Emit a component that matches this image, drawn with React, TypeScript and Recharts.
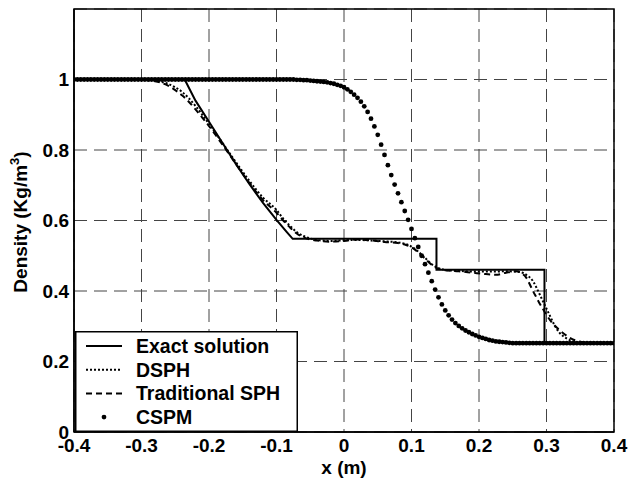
import { ComposedChart, Line, Scatter, XAxis, YAxis, CartesianGrid, ReferenceArea, Legend } from 'recharts'

const xTicks = [-0.4, -0.3, -0.2, -0.1, 0, 0.1, 0.2, 0.3, 0.4]
const yTicks = [0, 0.2, 0.4, 0.6, 0.8, 1]

// exact Riemann solution
const exact = [
  [-0.4, 1], [-0.236, 1], [-0.22, 0.94], [-0.2, 0.88], [-0.18, 0.82], [-0.16, 0.76], [-0.14, 0.703],
  [-0.12, 0.65], [-0.1, 0.602], [-0.085, 0.568], [-0.076, 0.548], [0.137, 0.548], [0.137, 0.46],
  [0.297, 0.46], [0.297, 0.252], [0.4, 0.252],
]

const dsph = [
  [-0.4, 1], [-0.3, 1], [-0.29, 0.999], [-0.28, 0.997], [-0.27, 0.993], [-0.26, 0.987], [-0.25, 0.978],
  [-0.24, 0.965], [-0.23, 0.947], [-0.22, 0.925], [-0.21, 0.9], [-0.2, 0.874], [-0.18, 0.82], [-0.16, 0.765],
  [-0.14, 0.712], [-0.12, 0.665], [-0.1, 0.63], [-0.09, 0.605], [-0.08, 0.585], [-0.07, 0.567], [-0.06, 0.556],
  [-0.05, 0.549], [-0.04, 0.545], [-0.02, 0.542], [0, 0.544], [0.02, 0.545], [0.04, 0.543], [0.06, 0.541],
  [0.08, 0.538], [0.09, 0.534], [0.1, 0.526], [0.11, 0.512], [0.12, 0.494], [0.13, 0.476], [0.14, 0.465],
  [0.15, 0.46], [0.17, 0.457], [0.2, 0.455], [0.22, 0.455], [0.24, 0.456], [0.26, 0.454], [0.27, 0.446],
  [0.28, 0.428], [0.285, 0.41], [0.29, 0.39], [0.295, 0.37], [0.3, 0.35], [0.305, 0.33], [0.31, 0.31],
  [0.315, 0.293], [0.32, 0.28], [0.33, 0.265], [0.34, 0.257], [0.35, 0.253], [0.4, 0.252],
]

const tradSph = [
  [-0.4, 1], [-0.3, 1], [-0.29, 0.998], [-0.28, 0.995], [-0.27, 0.99], [-0.26, 0.982], [-0.25, 0.97],
  [-0.24, 0.955], [-0.23, 0.937], [-0.22, 0.915], [-0.21, 0.892], [-0.2, 0.868], [-0.18, 0.815], [-0.16, 0.76],
  [-0.14, 0.706], [-0.12, 0.658], [-0.1, 0.622], [-0.09, 0.6], [-0.08, 0.58], [-0.07, 0.563], [-0.06, 0.552],
  [-0.05, 0.546], [-0.04, 0.543], [-0.02, 0.54], [0, 0.542], [0.02, 0.546], [0.04, 0.544], [0.06, 0.539],
  [0.08, 0.536], [0.09, 0.532], [0.1, 0.524], [0.11, 0.51], [0.12, 0.492], [0.13, 0.474], [0.14, 0.463],
  [0.15, 0.459], [0.17, 0.456], [0.19, 0.452], [0.21, 0.448], [0.225, 0.446], [0.24, 0.452], [0.255, 0.456],
  [0.265, 0.448], [0.27, 0.438], [0.275, 0.42], [0.28, 0.4], [0.285, 0.382], [0.29, 0.364], [0.295, 0.348],
  [0.3, 0.332], [0.31, 0.306], [0.32, 0.288], [0.33, 0.273], [0.34, 0.262], [0.35, 0.256], [0.36, 0.253],
  [0.4, 0.252],
]

const cspm = [
  [-0.4, 1], [-0.395, 1], [-0.39, 1], [-0.385, 1], [-0.38, 1], [-0.375, 1], [-0.37, 1], [-0.365, 1],
  [-0.36, 1], [-0.355, 1], [-0.35, 1], [-0.345, 1], [-0.34, 1], [-0.335, 1], [-0.33, 1], [-0.325, 1],
  [-0.32, 1], [-0.315, 1], [-0.31, 1], [-0.305, 1], [-0.3, 1], [-0.295, 1], [-0.29, 1], [-0.285, 1],
  [-0.28, 1], [-0.275, 1], [-0.27, 1], [-0.265, 1], [-0.26, 1], [-0.255, 1], [-0.25, 1], [-0.245, 1],
  [-0.24, 1], [-0.235, 1], [-0.23, 1], [-0.225, 1], [-0.22, 1], [-0.215, 1], [-0.21, 1], [-0.205, 1],
  [-0.2, 1], [-0.195, 1], [-0.19, 1], [-0.185, 1], [-0.18, 1], [-0.175, 1], [-0.17, 1], [-0.165, 1],
  [-0.16, 1], [-0.155, 1], [-0.15, 1], [-0.145, 1], [-0.14, 1], [-0.135, 1], [-0.13, 1], [-0.125, 1],
  [-0.12, 1], [-0.115, 1], [-0.11, 1], [-0.105, 1], [-0.1, 1], [-0.095, 1], [-0.09, 1], [-0.085, 1],
  [-0.08, 1], [-0.075, 1], [-0.07, 0.999], [-0.065, 0.999], [-0.06, 0.998], [-0.055, 0.998], [-0.05, 0.997],
  [-0.045, 0.996], [-0.04, 0.995], [-0.035, 0.994], [-0.03, 0.993], [-0.025, 0.992], [-0.02, 0.99],
  [-0.015, 0.988], [-0.01, 0.985], [-0.005, 0.982], [0, 0.978], [0.005, 0.972], [0.01, 0.965], [0.015, 0.957],
  [0.02, 0.948], [0.025, 0.937], [0.03, 0.924], [0.035, 0.908], [0.04, 0.889], [0.045, 0.867], [0.05, 0.843],
  [0.055, 0.815], [0.06, 0.786], [0.065, 0.757], [0.07, 0.729], [0.075, 0.702], [0.08, 0.677], [0.085, 0.652],
  [0.09, 0.627], [0.095, 0.602], [0.1, 0.576], [0.105, 0.55], [0.11, 0.525], [0.115, 0.5], [0.12, 0.476],
  [0.125, 0.452], [0.13, 0.428], [0.135, 0.404], [0.14, 0.382], [0.145, 0.362], [0.15, 0.345], [0.155, 0.331],
  [0.16, 0.319], [0.165, 0.309], [0.17, 0.301], [0.175, 0.294], [0.18, 0.288], [0.185, 0.283], [0.19, 0.278],
  [0.195, 0.274], [0.2, 0.27], [0.205, 0.267], [0.21, 0.264], [0.215, 0.261], [0.22, 0.259], [0.225, 0.257],
  [0.23, 0.256], [0.235, 0.255], [0.24, 0.254], [0.245, 0.253], [0.25, 0.252], [0.255, 0.252], [0.26, 0.252],
  [0.265, 0.252], [0.27, 0.252], [0.275, 0.252], [0.28, 0.252], [0.285, 0.252], [0.29, 0.252], [0.295, 0.252],
  [0.3, 0.252], [0.305, 0.252], [0.31, 0.252], [0.315, 0.252], [0.32, 0.252], [0.325, 0.252], [0.33, 0.252],
  [0.335, 0.252], [0.34, 0.252], [0.345, 0.252], [0.35, 0.252], [0.355, 0.252], [0.36, 0.252], [0.365, 0.252],
  [0.37, 0.252], [0.375, 0.252], [0.38, 0.252], [0.385, 0.252], [0.39, 0.252], [0.395, 0.252], [0.4, 0.252],
]

const toPts = (arr: number[][]) => arr.map(([x, y]) => ({ x, y }))

const FONT = '"Liberation Sans", Arial, Helvetica, sans-serif'
const tickStyle = { fontSize: 19, fontWeight: 700, fill: '#000', fontFamily: FONT }

const legendRows = [
  { name: 'Exact solution', dash: '' },
  { name: 'DSPH', dash: '2 2' },
  { name: 'Traditional SPH', dash: '6 4' },
  { name: 'CSPM', dash: 'dot' },
]

function LegendBox() {
  return (
    <svg width={223} height={101} style={{ display: 'block' }}>
      <rect x={0.75} y={0.75} width={221.5} height={99.5} fill='#fff' stroke='#000' strokeWidth={1.5} />
      {legendRows.map((r, i) => {
        const cy = 15 + i * 23.7
        return (
          <g key={r.name}>
            {r.dash === 'dot' ? (
              <circle cx={29} cy={cy} r={2.4} fill='#000' />
            ) : (
              <line x1={11} x2={47} y1={cy} y2={cy} stroke='#000' strokeWidth={2} strokeDasharray={r.dash || undefined} />
            )}
            <text x={61} y={cy + 7} fontSize={19.5} fontWeight={700} fontFamily={FONT} fill='#000'>
              {r.name}
            </text>
          </g>
        )
      })}
    </svg>
  )
}

function YLabel() {
  return (
    <text
      transform='translate(27, 222) rotate(-90)'
      textAnchor='middle'
      fontSize={19}
      fontWeight={700}
      fontFamily={FONT}
      fill='#000'
    >
      Density (Kg/m<tspan dy={-8} fontSize={13}>3</tspan><tspan dy={8}>)</tspan>
    </text>
  )
}

export default function App() {
  return (
    <div style={{ position: 'absolute', left: 0, top: 0, width: 629, height: 486, background: '#fff' }}>
      <ComposedChart width={629} height={486} margin={{ top: 9, right: 15, bottom: 0, left: 0 }}>
        <CartesianGrid stroke='#444' strokeDasharray='13 7' />
        <XAxis
          dataKey='x'
          type='number'
          domain={[-0.4, 0.4]}
          ticks={xTicks}
          allowDataOverflow
          tickFormatter={(v) => String(v)}
          tick={tickStyle}
          tickLine={false}
          tickSize={4}
          tickMargin={3}
          axisLine={{ stroke: '#000', strokeWidth: 1.5 }}
          height={54}
          label={{ value: 'x (m)', position: 'insideBottom', offset: 12, style: { ...tickStyle } }}
        />
        <YAxis
          dataKey='y'
          type='number'
          domain={[0, 1.2]}
          ticks={yTicks}
          allowDataOverflow
          tickFormatter={(v) => String(v)}
          tick={tickStyle}
          tickLine={false}
          tickSize={4}
          tickMargin={1}
          axisLine={{ stroke: '#000', strokeWidth: 1.5 }}
          width={74}
          label={{ content: () => <YLabel /> }}
        />
        <ReferenceArea x1={-0.4} x2={0.4} y1={0} y2={1.2} fill='none' stroke='#000' strokeWidth={1.5} ifOverflow='visible' />
        <Line data={toPts(exact)} dataKey='y' type='linear' stroke='#000' strokeWidth={2} dot={false} isAnimationActive={false} name='Exact solution' />
        <Line data={toPts(dsph)} dataKey='y' type='monotone' stroke='#000' strokeWidth={2} strokeDasharray='2 2' dot={false} isAnimationActive={false} name='DSPH' />
        <Line data={toPts(tradSph)} dataKey='y' type='monotone' stroke='#000' strokeWidth={2} strokeDasharray='6 4' dot={false} isAnimationActive={false} name='Traditional SPH' />
        <Scatter
          data={toPts(cspm)}
          dataKey='y'
          fill='#000'
          isAnimationActive={false}
          name='CSPM'
          shape={(p: any) => <circle cx={p.cx} cy={p.cy} r={2.4} fill='#000' />}
        />
        <Legend
          layout='horizontal'
          verticalAlign='middle'
          align='center'
          wrapperStyle={{ left: 75, top: 331, width: 223 }}
          content={() => <LegendBox />}
        />
      </ComposedChart>
    </div>
  )
}
